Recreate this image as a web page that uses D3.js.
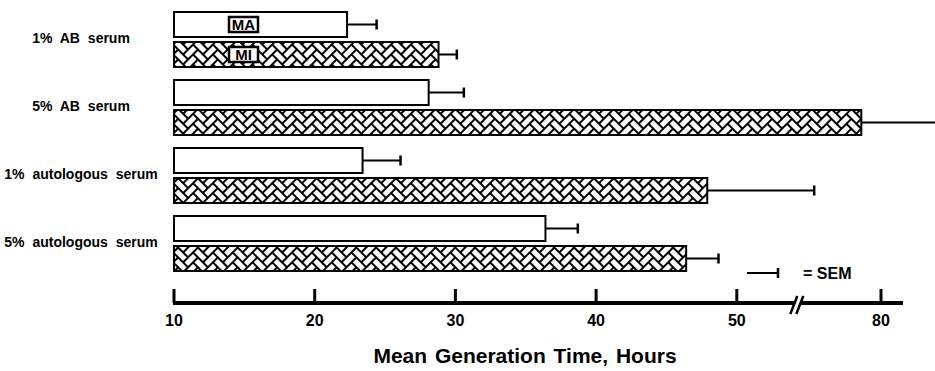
<!DOCTYPE html>
<html>
<head>
<meta charset="utf-8">
<script src="https://cdn.jsdelivr.net/npm/d3@7"></script>
<style>
  body { margin: 0; background: #fff; }
  text { font-family: "Liberation Sans", Arial, sans-serif; font-weight: bold; fill: #000; }
</style>
</head>
<body>
<script>
// data (hours)
var categories = ["1% AB serum", "5% AB serum", "1% autologous serum", "5% autologous serum"];
var series = ["MA", "MI"];
var maValues = [22.3, 28.1, 23.4, 36.4];
var maSem = [2.1, 2.5, 2.7, 2.3];
var miValues = [28.8, 78.6, 47.9, 46.4];
var miSem = [1.3, 5.5, 7.6, 2.3];
var tickValues = [10, 20, 30, 40, 50, 80];
var breakValue = 54.3;

var width = 935;
var height = 371;

var svg = d3.select("body").append("svg")
    .attr("width", width)
    .attr("height", height);

// broken axis: 10..57 on one segment, 73..90 on the other
var x = d3.scaleLinear()
    .domain([10, 57, 73, 90])
    .range([174, 835.3, 782.5, 1021.7]);

var y0 = d3.scaleBand()
    .domain(categories)
    .range([12, 271])
    .paddingInner(13 / 68);

var y1 = d3.scaleBand()
    .domain(series)
    .range([0, y0.bandwidth()])
    .paddingInner(5 / 30);

// herringbone fill for the MI bars
var u = 7;
var defs = svg.append("defs");
var pat = defs.append("pattern")
    .attr("id", "herring")
    .attr("patternUnits", "userSpaceOnUse")
    .attr("width", 4 * u)
    .attr("height", 4 * u)
    .attr("patternTransform", "rotate(45)");
pat.append("rect").attr("width", 4 * u).attr("height", 4 * u).attr("fill", "#fff");
var bricks = [];
for (var k = -6; k < 10; k++) {
    for (var m = -3; m <= 3; m++) {
        bricks.push({ x: (k + 4 * m) * u, y: k * u, w: 2 * u, h: u });
        bricks.push({ x: (k + 4 * m) * u, y: (k + 1) * u, w: u, h: 2 * u });
    }
}
pat.selectAll("rect.b")
    .data(bricks)
    .enter().append("rect")
    .attr("class", "b")
    .attr("x", function(d) { return d.x; })
    .attr("y", function(d) { return d.y; })
    .attr("width", function(d) { return d.w; })
    .attr("height", function(d) { return d.h; })
    .attr("fill", "none")
    .attr("stroke", "#000")
    .attr("stroke-width", 2);

var rows = [];
categories.forEach(function(c, i) {
    rows.push({ cat: c, s: "MA", v: maValues[i], e: maSem[i] });
    rows.push({ cat: c, s: "MI", v: miValues[i], e: miSem[i] });
});

function barY(d) { return y0(d.cat) + y1(d.s); }

// error bars (drawn first so bars sit on top)
var err = svg.append("g");
err.selectAll("line.h")
    .data(rows)
    .enter().append("line")
    .attr("x1", function(d) { return x(d.v); })
    .attr("x2", function(d) { return x(d.v + d.e); })
    .attr("y1", function(d) { return barY(d) + y1.bandwidth() / 2; })
    .attr("y2", function(d) { return barY(d) + y1.bandwidth() / 2; })
    .attr("stroke", "#000")
    .attr("stroke-width", 2);
err.selectAll("line.c")
    .data(rows)
    .enter().append("line")
    .attr("x1", function(d) { return x(d.v + d.e); })
    .attr("x2", function(d) { return x(d.v + d.e); })
    .attr("y1", function(d) { return barY(d) + y1.bandwidth() / 2 - 5; })
    .attr("y2", function(d) { return barY(d) + y1.bandwidth() / 2 + 5; })
    .attr("stroke", "#000")
    .attr("stroke-width", 2.5);

// bars
svg.append("g").selectAll("rect")
    .data(rows)
    .enter().append("rect")
    .attr("x", x(10))
    .attr("y", barY)
    .attr("width", function(d) { return x(d.v) - x(10); })
    .attr("height", y1.bandwidth())
    .attr("fill", function(d) { return d.s == "MI" ? "url(#herring)" : "#fff"; })
    .attr("stroke", "#000")
    .attr("stroke-width", 2);

// MA / MI keys inside the first pair of bars
var keys = svg.append("g");
series.forEach(function(s) {
    var cy = y0(categories[0]) + y1(s) + y1.bandwidth() / 2;
    keys.append("rect")
        .attr("x", 229).attr("y", cy - 7.5)
        .attr("width", 29).attr("height", 15)
        .attr("fill", "#fff")
        .attr("stroke", "#000")
        .attr("stroke-width", 2.5);
    keys.append("text")
        .attr("x", 243.5).attr("y", cy + 5.5)
        .attr("text-anchor", "middle")
        .attr("font-size", "15px")
        .text(s);
});

// category labels
svg.append("g").selectAll("text")
    .data(categories)
    .enter().append("text")
    .attr("x", 81)
    .attr("y", function(d) { return y0(d) + 31; })
    .attr("text-anchor", "middle")
    .attr("font-size", "14px")
    .attr("word-spacing", "4px")
    .text(function(d) { return d; });

// x axis
var axisY = 303;
var ax = svg.append("g");
ax.append("line")
    .attr("x1", 173).attr("x2", 903)
    .attr("y1", axisY).attr("y2", axisY)
    .attr("stroke", "#000")
    .attr("stroke-width", 4);
ax.selectAll("line.t")
    .data(tickValues)
    .enter().append("line")
    .attr("x1", function(d) { return x(d); })
    .attr("x2", function(d) { return x(d); })
    .attr("y1", axisY).attr("y2", 289)
    .attr("stroke", "#000")
    .attr("stroke-width", 3);
ax.selectAll("text")
    .data(tickValues)
    .enter().append("text")
    .attr("x", function(d) { return x(d); })
    .attr("y", 326)
    .attr("text-anchor", "middle")
    .attr("font-size", "16px")
    .text(function(d) { return d; });

// axis break marks
var bx = x(breakValue);
ax.append("polygon")
    .attr("points", [[bx - 6, 314], [bx + 1, 296], [bx + 5, 296], [bx - 2, 314]].join(" "))
    .attr("fill", "#fff");
[-5, 1].forEach(function(o) {
    ax.append("line")
        .attr("x1", bx + o - 2).attr("y1", 314)
        .attr("x2", bx + o + 5).attr("y2", 296)
        .attr("stroke", "#000")
        .attr("stroke-width", 2.5);
});

ax.append("text")
    .attr("x", 525)
    .attr("y", 363)
    .attr("text-anchor", "middle")
    .attr("font-size", "21px")
    .attr("word-spacing", "2px")
    .text("Mean Generation Time, Hours");

// SEM legend
var leg = svg.append("g").attr("transform", "translate(747, 273)");
leg.append("line")
    .attr("x1", 0).attr("x2", 31)
    .attr("y1", 0).attr("y2", 0)
    .attr("stroke", "#000").attr("stroke-width", 2);
leg.append("line")
    .attr("x1", 31).attr("x2", 31)
    .attr("y1", -5).attr("y2", 5)
    .attr("stroke", "#000").attr("stroke-width", 2.5);
leg.append("text")
    .attr("x", 56)
    .attr("y", 6)
    .attr("font-size", "16px")
    .text("= SEM");
</script>
</body>
</html>
